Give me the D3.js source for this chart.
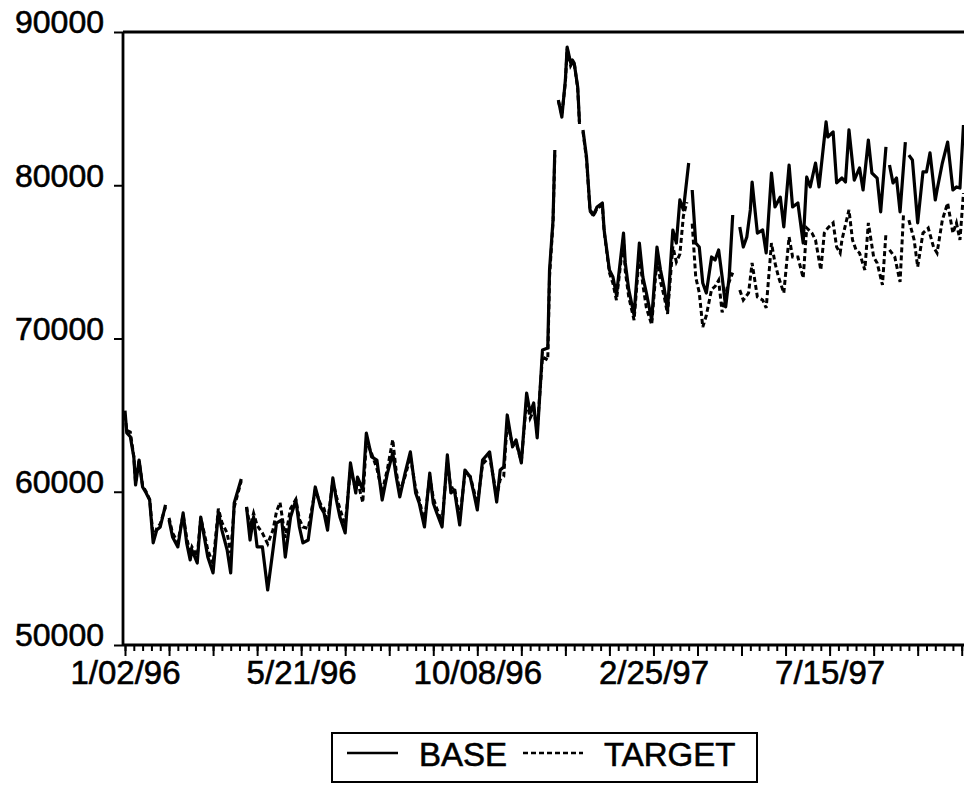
<!DOCTYPE html>
<html>
<head>
<meta charset="utf-8">
<script src="https://cdn.jsdelivr.net/npm/d3@7"></script>
<style>
	html, body { margin: 0; padding: 0; background: #fff; overflow: hidden; }
	svg { display: block; }
	.axis text { font-family: "Liberation Sans", Arial, sans-serif; font-size: 32px; fill: #000; stroke: #000; stroke-width: 0.6px; }
	.x.axis text { font-size: 33px; }
	.axis path, .axis line { stroke: #000; }
	.legend text { font-family: "Liberation Sans", Arial, sans-serif; font-size: 33px; fill: #000; stroke: #000; stroke-width: 0.6px; }
</style>
</head>
<body>
<div id="chart"></div>
<script>
// observations are business days counted from 1/02/96; null marks a break in the series
var base = [
	[0,65300],[1,63840],[3,63600],[5,62270],[6,60440],[8,62070],[10,60310],[12,59920],[14,59460],[16,56660],[18,57500],[20,57700],[23,59140],[24,null],
	[25,58160],[27,57050],[30,56400],[33,58620],[35,56660],[37,55550],[38,56200],[41,55350],[43,58350],[45,57050],[47,55740],[50,54700],[53,58680],[55,57500],[58,56200],[60,54700],[62,59270],[66,60830],[67,null],
	[69,59010],[71,56850],[73,58350],[75,56400],[78,56400],[81,53590],[84,56200],[86,57960],[89,58160],[91,55740],[94,58350],[97,59460],[99,57700],[101,56660],[104,56850],[108,60310],[111,59010],[113,58610],[115,57500],[118,60900],[120,59460],[122,58350],
	[125,57310],[128,61880],[131,59920],[132,60960],[135,60120],[137,63830],[140,62270],[143,62070],[146,59460],[149,61220],[152,62530],[154,60960],[156,59660],[159,61220],[162,62600],[165,59920],[167,59270],[170,57700],[173,61220],[175,59270],[177,58610],[180,57700],
	[183,62400],[185,59920],[187,60120],[190,57830],[193,61420],[196,60960],[198,59920],[200,58810],[203,62070],[207,62600],[211,59330],[213,61420],[215,61620],[217,65010],[220,62930],[222,63380],[225,61880],[228,66440],[230,65140],[232,65790],[234,63510],
	[237,69250],[240,69380],[241,74470],[243,77740],[244,82300],[245,null],
	[246,85560],[248,84450],[250,86870],[251,89020],[253,87980],[254,88170],[255,87980],[257,86410],[258,84130],[259,null],
	[260,83610],[262,81840],[264,78390],[266,78060],[268,78580],[271,78840],[272,77080],[275,74470],[277,74010],[279,72840],[283,76880],[284,74930],[286,73170],[289,71530],[292,76230],[294,74010],[296,72970],[299,71210],[302,75970],[304,74470],[306,73360],[308,71860],[311,77080],[313,76230],[315,79040],[317,78390],[320,81450],[321,null],
	[322,79690],[324,76230],[326,75970],[328,73620],[330,72970],[333,75320],[335,75120],[337,75780],[339,74010],[341,72060],[343,74010],[345,78060],[347,null],
	[349,77280],[351,75970],[353,76620],[355,78390],[356,80210],[359,76880],[362,77080],[364,75580],[367,80800],[369,78580],[372,79230],[374,77280],[377,81320],[379,78580],[382,78840],[385,76230],[387,80540],[389,79890],[392,81450],[394,79890],
	[398,84130],[399,83150],[402,83480],[404,80150],[407,80470],[409,80210],[411,83610],[414,80340],[417,81130],[419,79690],[422,82950],[424,80800],[427,80470],[429,78260],[432,82500],[433,null],
	[434,81320],[436,80150],[438,80470],[440,78260],[443,82820],[444,null],
	[445,81970],[447,81650],[450,77540],[453,80870],[455,80870],[457,82110],[460,79040],[461,79690],[464,81450],[467,82820],[470,79690],[472,79890],[474,79820],[476,83930]
];

var target = [
	[0,65000],[1,64000],[3,63900],[5,62300],[6,60600],[8,62000],[10,60400],[12,60000],[14,59500],[16,57000],[18,57600],[20,57900],[23,59000],[24,null],
	[25,58300],[27,57300],[30,56700],[33,58500],[35,57000],[37,56000],[38,56400],[41,55800],[43,58300],[45,57300],[47,56200],[50,55300],[53,58900],[55,58000],[58,57300],[60,56000],[62,59000],[66,60700],[67,null],
	[69,59000],[71,57700],[73,58600],[75,57800],[78,57300],[81,56600],[84,57500],[86,58700],[88,59300],[91,57000],[94,58900],[97,59500],[99,58200],[101,57700],[104,57600],[108,60100],[111,59200],[113,58900],[115,58000],[118,60700],[120,59700],[122,58900],
	[125,57800],[128,61500],[131,60100],[132,60700],[135,59300],[137,63300],[140,62500],[143,61500],[146,60000],[149,61500],[152,63400],[154,61300],[156,60000],[159,61000],[162,62300],[165,60200],[167,59500],[170,58000],[173,61000],[175,59600],[177,58900],[180,58000],
	[183,62000],[185,60200],[187,60300],[190,58200],[193,61200],[196,61000],[198,60100],[200,59200],[203,61800],[207,62300],[211,59700],[213,60800],[215,61000],[217,64600],[220,63000],[222,63200],[225,62000],[228,66000],[230,64800],[232,65300],[234,64000],
	[237,68800],[240,68600],[241,74000],[243,77600],[244,82000],[245,null],
	[246,85500],[248,84600],[250,86700],[251,88900],[253,87800],[254,88000],[255,88000],[257,86300],[258,84000],[259,null],
	[260,83500],[262,81700],[264,78300],[266,78000],[268,78500],[271,78700],[272,77000],[275,74300],[277,73600],[279,72500],[283,76500],[284,74400],[286,72700],[289,71200],[292,75500],[294,73500],[296,72000],[299,70900],[302,75200],[304,73700],[306,72800],[308,71600],[311,76000],[313,75000],[315,75500],[317,78000],[319,78900],[321,null],
	[322,77500],[324,74000],[326,73000],[328,70750],[330,71500],[333,73200],[335,73400],[337,73800],[339,71700],[342,73400],[345,74300],[347,null],
	[349,73170],[351,72510],[354,72970],[356,74930],[359,72710],[362,72510],[364,71990],[367,76230],[369,74930],[371,74010],[374,72970],[377,76620],[379,75320],[382,75320],[385,73950],[387,77210],[390,76880],[392,76430],[395,74470],
	[397,76880],[399,77210],[402,77540],[404,75970],[406,75580],[407,76430],[411,78390],[413,76430],[415,75780],[417,75580],[420,74470],[422,77540],[425,75320],[427,74930],[430,73490],[432,76880],[433,null],
	[434,75780],[437,75320],[440,73690],[442,78190],[444,null],
	[445,77730],[448,76430],[450,74670],[453,76880],[456,77210],[459,75970],[461,75580],[464,77730],[467,78840],[470,76880],[472,77540],[474,76430],[476,79490]
];

var yTicks = [50000, 60000, 70000, 80000, 90000];
var xLabelObs = [0, 100, 200, 300, 400];
var xLabels = ['1/02/96', '5/21/96', '10/08/96', '2/25/97', '7/15/97'];
var seriesNames = ['BASE', 'TARGET'];

var fullWidth = 964;
var fullHeight = 786;
var margin = { top: 32, left: 123, bottom: 141 };
var height = fullHeight - margin.top - margin.bottom;

var svg = d3.select('#chart')
	.append('svg')
	.attr('width', fullWidth)
	.attr('height', fullHeight);

svg.append('rect')
	.attr('width', fullWidth)
	.attr('height', fullHeight)
	.attr('fill', '#fff');

var x = d3.scaleLinear()
	.domain([0, 478])
	.range([2, 844]);

var y = d3.scaleLinear()
	.domain([50000, 90000])
	.range([height, 0]);

var chartArea = svg.append('g')
	.attr('transform', 'translate(' + margin.left + ',' + margin.top + ')');

var line = d3.line()
	.defined(function(d) { return d[1] !== null; })
	.x(function(d) { return x(d[0]); })
	.y(function(d) { return y(d[1]); });

chartArea.append('path')
	.datum(target)
	.attr('fill', 'none')
	.attr('stroke', '#000')
	.attr('stroke-width', 3)
	.attr('stroke-dasharray', '5,3')
	.attr('d', line);

chartArea.append('path')
	.datum(base)
	.attr('fill', 'none')
	.attr('stroke', '#000')
	.attr('stroke-width', 3.2)
	.attr('stroke-linejoin', 'round')
	.attr('d', line);

// frame: top border
chartArea.append('line')
	.attr('x1', 0).attr('x2', fullWidth)
	.attr('y1', 0).attr('y2', 0)
	.attr('stroke', '#000')
	.attr('stroke-width', 2.8);

// x axis: minor ticks every 5 obs, major every 25, labels every 100
var xMinor = d3.axisBottom(x)
	.tickValues(d3.range(0, 478, 5))
	.tickSize(6)
	.tickFormat('');
var xMajor = d3.axisBottom(x)
	.tickValues(d3.range(0, 478, 25))
	.tickSize(11)
	.tickFormat('');
var xLab = d3.axisBottom(x)
	.tickValues(xLabelObs)
	.tickSize(0)
	.tickPadding(16)
	.tickFormat(function(d, i) { return xLabels[i]; });

[xMinor, xMajor].forEach(function(ax) {
	var g = chartArea.append('g')
		.attr('class', 'x axis')
		.attr('transform', 'translate(0,' + height + ')')
		.call(ax);
	g.select('.domain').remove();
	g.selectAll('line').attr('stroke-width', 2);
});

var xl = chartArea.append('g')
	.attr('class', 'x axis')
	.attr('transform', 'translate(0,' + height + ')')
	.call(xLab);
xl.select('.domain').remove();

chartArea.append('line')
	.attr('x1', 0).attr('x2', fullWidth)
	.attr('y1', height).attr('y2', height)
	.attr('stroke', '#000')
	.attr('stroke-width', 2.8);

var yAxis = d3.axisLeft(y)
	.tickValues(yTicks)
	.tickSize(9)
	.tickPadding(10)
	.tickFormat(d3.format('d'));

var yg = chartArea.append('g')
	.attr('class', 'y axis')
	.call(yAxis);
yg.select('.domain').remove();
yg.selectAll('line').attr('stroke-width', 2);
yg.selectAll('text').attr('dy', '0.03em');

chartArea.append('line')
	.attr('x1', 0).attr('x2', 0)
	.attr('y1', 0).attr('y2', height)
	.attr('stroke', '#000')
	.attr('stroke-width', 2.8);

// legend
var legend = svg.append('g')
	.attr('class', 'legend');

legend.append('rect')
	.attr('x', 332).attr('y', 733)
	.attr('width', 425).attr('height', 49)
	.attr('fill', 'none')
	.attr('stroke', '#000')
	.attr('stroke-width', 2);

legend.append('line')
	.attr('x1', 347).attr('x2', 398)
	.attr('y1', 753).attr('y2', 753)
	.attr('stroke', '#000')
	.attr('stroke-width', 2.5);

legend.append('line')
	.attr('x1', 523).attr('x2', 583)
	.attr('y1', 753).attr('y2', 753)
	.attr('stroke', '#000')
	.attr('stroke-width', 2.5)
	.attr('stroke-dasharray', '5,3');

legend.append('text')
	.attr('x', 419).attr('y', 766)
	.text(seriesNames[0]);

legend.append('text')
	.attr('x', 604).attr('y', 766)
	.text(seriesNames[1]);
</script>
</body>
</html>
